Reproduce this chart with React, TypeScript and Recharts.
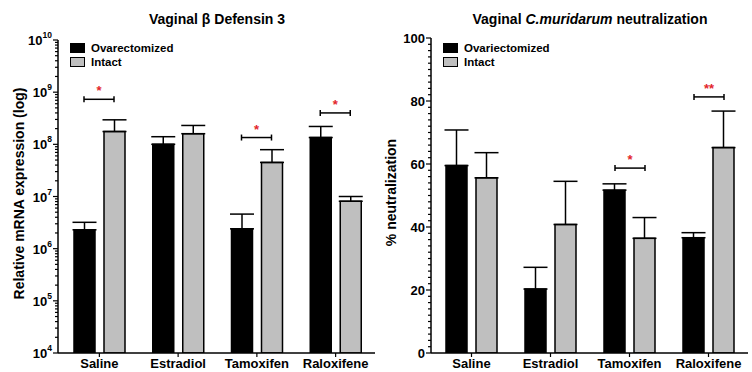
import React from "react";
import { BarChart, Bar, XAxis, YAxis, ErrorBar, Legend } from "recharts";

const categories = ["Saline", "Estradiol", "Tamoxifen", "Raloxifene"];

// Vaginal β Defensin 3, relative mRNA expression (log axis)
const defOvx = [2.3e6, 1.0e8, 2.4e6, 1.35e8];
const defOvxTop = [3.2e6, 1.4e8, 4.6e6, 2.2e8];
const defIntact = [1.76e8, 1.6e8, 4.5e7, 8.1e6];
const defIntactTop = [2.95e8, 2.3e8, 7.9e7, 1.0e7];
const defSig = [7.3e8, null, 1.35e8, 4.0e8];
const defSigText = ["*", "", "*", "*"];
const defMajorTicks = [1e4, 1e5, 1e6, 1e7, 1e8, 1e9, 1e10];

// Vaginal C.muridarum neutralization (%)
const neuOvx = [59.5, 20.3, 51.7, 36.6];
const neuOvxTop = [70.8, 27.2, 53.7, 38.2];
const neuIntact = [55.6, 40.8, 36.4, 65.2];
const neuIntactTop = [63.6, 54.5, 43.0, 76.8];
const neuSig = [null, null, 58.7, 81.3];
const neuSigText = ["", "", "*", "**"];
const neuMajorTicks = [0, 20, 40, 60, 80, 100];

const defNames = ["Ovarectomized", "Intact"];
const neuNames = ["Ovariectomized", "Intact"];

const FONT = "'Liberation Sans', Arial, Helvetica, sans-serif";
const axisStyle = { stroke: "#000", strokeWidth: 1.5 };

const defMinorTicks = defMajorTicks.slice(0, -1).flatMap((d) => [2, 3, 4, 5, 6, 7, 8, 9].map((m) => d * m));
const defTicks = [...defMajorTicks, ...defMinorTicks].sort((a, b) => a - b);
const neuTicks = Array.from({ length: 51 }, (_, i) => i * 2);

const build = (ovx, ovxTop, intact, intactTop, sig, sigText) =>
  categories.map((name, i) => ({
    name,
    ovx: ovx[i],
    ovxErr: [0, ovxTop[i] - ovx[i]],
    intact: intact[i],
    intactErr: [0, intactTop[i] - intact[i]],
    sig: sig[i],
    sigText: sigText[i],
  }));

const defData = build(defOvx, defOvxTop, defIntact, defIntactTop, defSig, defSigText);
const neuData = build(neuOvx, neuOvxTop, neuIntact, neuIntactTop, neuSig, neuSigText);

const LogTick = (props: any) => {
  const { x, y, payload } = props;
  const v = payload.value;
  const exp = Math.round(Math.log10(v));
  const major = defMajorTicks.includes(v);
  return (
    <g>
      <line x1={x - (major ? 5 : 3)} x2={x} y1={y} y2={y} stroke="#000" strokeWidth={1.2} />
      {major && (
        <text x={x - 6} y={y + 5} textAnchor="end" fontSize={13} fontWeight="bold" fill="#000" fontFamily={FONT}>
          10
          <tspan dy={-7} fontSize={8.5}>{exp}</tspan>
        </text>
      )}
    </g>
  );
};

const LinTick = (props: any) => {
  const { x, y, payload } = props;
  const major = neuMajorTicks.includes(payload.value);
  return (
    <g>
      <line x1={x - (major ? 5 : 3)} x2={x} y1={y} y2={y} stroke="#000" strokeWidth={1.2} />
      {major && (
        <text x={x - 6} y={y + 4.5} textAnchor="end" fontSize={13} fontWeight="bold" fill="#000" fontFamily={FONT}>
          {payload.value}
        </text>
      )}
    </g>
  );
};

const Bracket = (props: any) => {
  const { x, y, width, payload } = props;
  if (y == null || payload == null || payload.sig == null) return null;
  return (
    <g>
      <line x1={x} x2={x + width} y1={y} y2={y} stroke="#000" strokeWidth={1.5} />
      <line x1={x} x2={x} y1={y - 3} y2={y + 3} stroke="#000" strokeWidth={1.5} />
      <line x1={x + width} x2={x + width} y1={y - 3} y2={y + 3} stroke="#000" strokeWidth={1.5} />
      <text x={x + width / 2} y={y - 4} textAnchor="middle" fontSize={13} fontWeight="bold" fill="#e3262b" fontFamily={FONT}>
        {payload.sigText}
      </text>
    </g>
  );
};

const LegendBox = ({ payload, names }: any) => {
  const items = (payload || [])
    .filter((p: any) => p.type !== "none" && names.includes(p.value))
    .sort((a: any, b: any) => names.indexOf(a.value) - names.indexOf(b.value));
  return (
    <div style={{ fontFamily: FONT, fontWeight: "bold", fontSize: 11.5, color: "#000" }}>
      {items.map((p: any) => (
        <div key={p.value} style={{ display: "flex", alignItems: "center", height: 14 }}>
          <span
            style={{
              display: "inline-block",
              width: 15,
              height: 10,
              background: p.color,
              border: "1.5px solid #000",
              boxSizing: "border-box",
              marginRight: 6,
            }}
          />
          <span>{p.value}</span>
        </div>
      ))}
    </div>
  );
};

const yLabel = (text: string, bx: number) => ({
  content: ({ viewBox }: any) => {
    const cy = viewBox.y + viewBox.height / 2 - 3;
    return (
      <text
        x={bx}
        y={cy}
        transform={`rotate(-90 ${bx} ${cy})`}
        textAnchor="middle"
        fontSize={14}
        fontWeight="bold"
        fill="#000"
        fontFamily={FONT}
      >
        {text}
      </text>
    );
  },
});

const xTick = { fontSize: 13, fontWeight: "bold", fill: "#000", fontFamily: FONT };

const Title = ({ cx, children }: any) => (
  <div
    style={{
      position: "absolute",
      left: cx - 150,
      top: 11,
      width: 300,
      textAlign: "center",
      fontFamily: FONT,
      fontWeight: "bold",
      fontSize: 14,
      lineHeight: "16px",
      color: "#000",
    }}
  >
    {children}
  </div>
);

export default function App() {
  return (
    <div style={{ position: "absolute", left: 0, top: 0, width: 752, height: 372, background: "#fff" }}>
      <div style={{ position: "absolute", left: 0, top: 0 }}>
        <BarChart width={376} height={372} data={defData} margin={{ top: 40, right: 1, bottom: 0, left: 0 }} barSize={21} barGap={9}>
          <XAxis dataKey="name" height={19} padding={{ left: 2, right: 0 }} axisLine={axisStyle} tickLine={{ stroke: "#000", strokeWidth: 1.2 }} tickSize={4} tickMargin={2} tick={xTick} interval={0} />
          <XAxis xAxisId="sig" dataKey="name" hide padding={{ left: 2, right: 0 }} />
          <YAxis
            scale="log"
            type="number"
            domain={[1e4, 1e10]}
            allowDataOverflow
            ticks={defTicks}
            interval={0}
            tick={(p: any) => <LogTick {...p} />}
            tickSize={0}
            tickMargin={0}
            tickLine={false}
            axisLine={axisStyle}
            width={58}
            label={yLabel("Relative mRNA expression (log)", 24)}
          />
          <Legend layout="vertical" align="center" verticalAlign="middle" wrapperStyle={{ left: 70, top: 41, width: "auto" }} content={<LegendBox names={defNames} />} />
          <Bar dataKey="ovx" name={defNames[0]} fill="#000" stroke="#000" strokeWidth={1.5} isAnimationActive={false}>
            <ErrorBar dataKey="ovxErr" width={12} stroke="#000" strokeWidth={1.5} direction="y" isAnimationActive={false} />
          </Bar>
          <Bar dataKey="intact" name={defNames[1]} fill="#bfbfbf" stroke="#000" strokeWidth={1.5} isAnimationActive={false}>
            <ErrorBar dataKey="intactErr" width={12} stroke="#000" strokeWidth={1.5} direction="y" isAnimationActive={false} />
          </Bar>
          <Bar xAxisId="sig" dataKey="sig" barSize={30} legendType="none" shape={(p: any) => <Bracket {...p} />} isAnimationActive={false} />
        </BarChart>
      </div>
      <div style={{ position: "absolute", left: 376, top: 0 }}>
        <BarChart width={376} height={372} data={neuData} margin={{ top: 38, right: 4, bottom: 0, left: 0 }} barSize={21} barGap={9}>
          <XAxis dataKey="name" height={19} padding={{ left: 1, right: 0 }} axisLine={axisStyle} tickLine={{ stroke: "#000", strokeWidth: 1.2 }} tickSize={4} tickMargin={2} tick={xTick} interval={0} />
          <XAxis xAxisId="sig" dataKey="name" hide padding={{ left: 1, right: 0 }} />
          <YAxis
            type="number"
            domain={[0, 100]}
            allowDataOverflow
            ticks={neuTicks}
            interval={0}
            tick={(p: any) => <LinTick {...p} />}
            tickSize={0}
            tickMargin={0}
            tickLine={false}
            axisLine={axisStyle}
            width={55}
            label={yLabel("% neutralization", 20)}
          />
          <Legend layout="vertical" align="center" verticalAlign="middle" wrapperStyle={{ left: 67, top: 41, width: "auto" }} content={<LegendBox names={neuNames} />} />
          <Bar dataKey="ovx" name={neuNames[0]} fill="#000" stroke="#000" strokeWidth={1.5} isAnimationActive={false}>
            <ErrorBar dataKey="ovxErr" width={12} stroke="#000" strokeWidth={1.5} direction="y" isAnimationActive={false} />
          </Bar>
          <Bar dataKey="intact" name={neuNames[1]} fill="#bfbfbf" stroke="#000" strokeWidth={1.5} isAnimationActive={false}>
            <ErrorBar dataKey="intactErr" width={12} stroke="#000" strokeWidth={1.5} direction="y" isAnimationActive={false} />
          </Bar>
          <Bar xAxisId="sig" dataKey="sig" barSize={30} legendType="none" shape={(p: any) => <Bracket {...p} />} isAnimationActive={false} />
        </BarChart>
      </div>
      <Title cx={217}>Vaginal β Defensin 3</Title>
      <Title cx={590}>
        Vaginal <i>C.muridarum</i> neutralization
      </Title>
    </div>
  );
}
